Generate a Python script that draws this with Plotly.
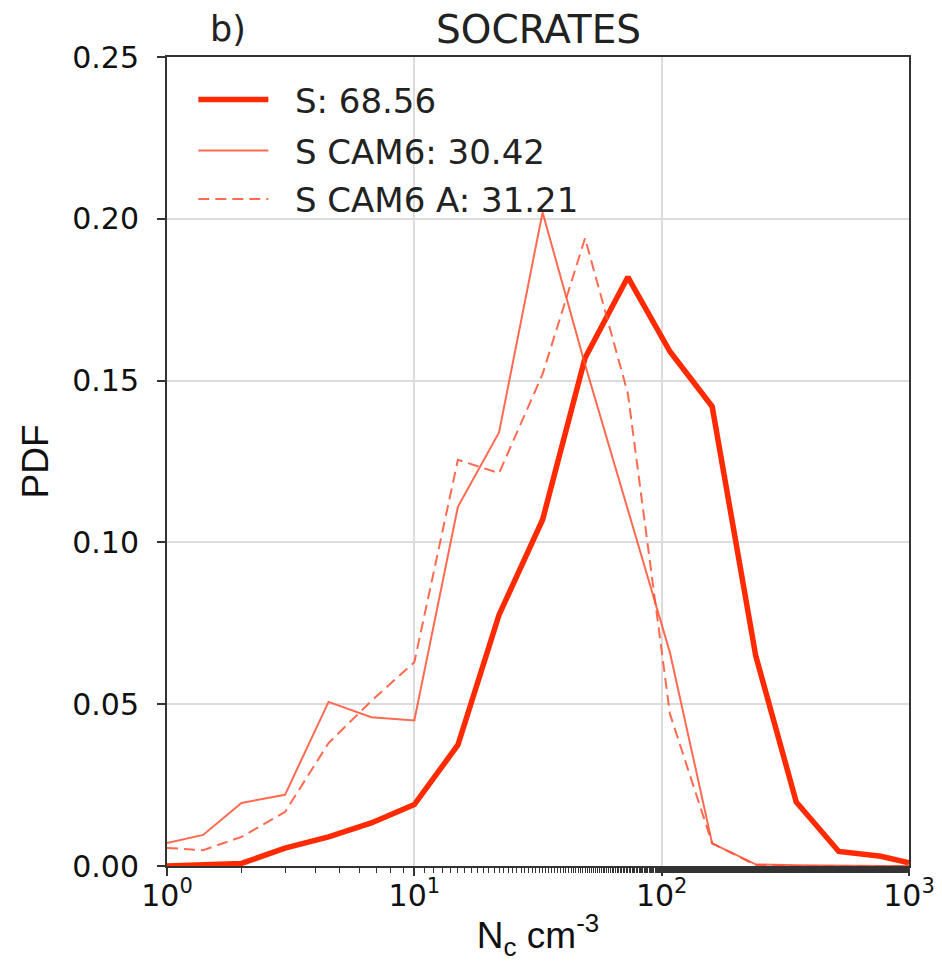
import plotly.graph_objects as go

# Bin centres (N_c, cm^-3)
nc_bins = [1, 1.4, 2, 3, 4.5, 6.7, 10, 15, 22, 33, 49, 73, 108, 160, 240, 350, 520, 770, 1000]

# PDF values
pdf_s = [0.0, 0.0003, 0.0008, 0.0055, 0.009, 0.0133, 0.019, 0.0374, 0.0776, 0.107,
         0.157, 0.182, 0.159, 0.142, 0.065, 0.0198, 0.0045, 0.003, 0.001]
pdf_s_cam6 = [0.0071, 0.0096, 0.0195, 0.022, 0.0507, 0.046, 0.045, 0.111, 0.134, 0.202,
              0.155, 0.110, 0.066, 0.007, 0.0005, 0.0002, 0.0, 0.0, 0.0]
pdf_s_cam6_a = [0.0056, 0.0049, 0.009, 0.0167, 0.038, 0.051, 0.063, 0.1255, 0.1214, 0.152,
                0.194, 0.146, 0.047, 0.007, 0.0003, 0.0, 0.0, 0.0, 0.0]

series_names = ["S: 68.56", "S CAM6: 30.42", "S CAM6 A: 31.21"]

x_tickvals = [1, 10, 100, 1000]
x_ticktext = ["10<sup>0</sup>", "10<sup>1</sup>", "10<sup>2</sup>", "10<sup>3</sup>"]
y_tickvals = [0.0, 0.05, 0.10, 0.15, 0.20, 0.25]
y_ticktext = ["0.00", "0.05", "0.10", "0.15", "0.20", "0.25"]

thick_color = "#FF2A00"
thin_color = "rgba(255,80,50,0.85)"
pad = "\u00a0\u00a0"

fig = go.Figure()
fig.add_trace(go.Scatter(x=nc_bins, y=pdf_s, mode="lines", name=pad + series_names[0],
                         line=dict(color=thick_color, width=5.5), legend="legend"))
fig.add_trace(go.Scatter(x=nc_bins, y=pdf_s_cam6, mode="lines", name=pad + series_names[1],
                         line=dict(color=thin_color, width=2), legend="legend2"))
fig.add_trace(go.Scatter(x=nc_bins, y=pdf_s_cam6_a, mode="lines", name=pad + series_names[2],
                         line=dict(color=thin_color, width=2, dash="11px,6px"), legend="legend3"))

leg_common = dict(bgcolor="rgba(0,0,0,0)", borderwidth=0, itemwidth=70,
                  font=dict(family="DejaVu Sans", size=34, color="#222222"),
                  xanchor="left", yanchor="middle", x=0.0355)
fig.update_layout(
    width=942, height=968,
    margin=dict(l=159, r=41, t=49, b=110),
    paper_bgcolor="white", plot_bgcolor="white",
    showlegend=True,
    legend=dict(**leg_common, y=0.947),
    legend2=dict(**leg_common, y=0.884),
    legend3=dict(**leg_common, y=0.824),
    font=dict(family="DejaVu Sans", color="#222222"),
    xaxis=dict(type="log", range=[0, 3], tickvals=x_tickvals, ticktext=x_ticktext,
               automargin=False,
               showgrid=True, gridcolor="#dcdcdc", gridwidth=1.5,
               showline=True, linecolor="#333333", linewidth=2, mirror=True,
               ticks="outside", ticklen=8, tickwidth=1.5, tickcolor="#333333",
               ticklabelstandoff=-6,
               tickfont=dict(family="DejaVu Sans", size=30, color="#111111"),
               minor=dict(ticks="outside", ticklen=5, tickwidth=1.2, tickcolor="#333333",
                          showgrid=False),
               title=dict(text="N<sub>c</sub> cm<sup>-3</sup>", standoff=10,
                          font=dict(family="Liberation Sans", size=37, color="#111111")),
               zeroline=False),
    yaxis=dict(range=[0, 0.25], tickvals=y_tickvals, ticktext=y_ticktext,
               automargin=False,
               showgrid=True, gridcolor="#dcdcdc", gridwidth=1.5,
               showline=True, linecolor="#333333", linewidth=2, mirror=True,
               ticks="outside", ticklen=8, tickwidth=1.5, tickcolor="#333333",
               ticklabelstandoff=12,
               tickfont=dict(family="DejaVu Sans", size=30, color="#111111"),
               title=dict(text="PDF", standoff=12,
                          font=dict(family="Liberation Sans", size=37, color="#111111")),
               zeroline=False),
    annotations=[
        dict(text="SOCRATES", xref="paper", yref="paper", x=0.5, y=1.0, yshift=28,
             showarrow=False, font=dict(family="DejaVu Sans", size=39, color="#222222"),
             xanchor="center", yanchor="middle"),
        dict(text="b)", xref="paper", yref="paper", x=0.055, y=1.0, yshift=28,
             showarrow=False, font=dict(family="DejaVu Sans", size=35, color="#222222"),
             xanchor="left", yanchor="middle"),
    ],
)

fig.write_html("out.html")
